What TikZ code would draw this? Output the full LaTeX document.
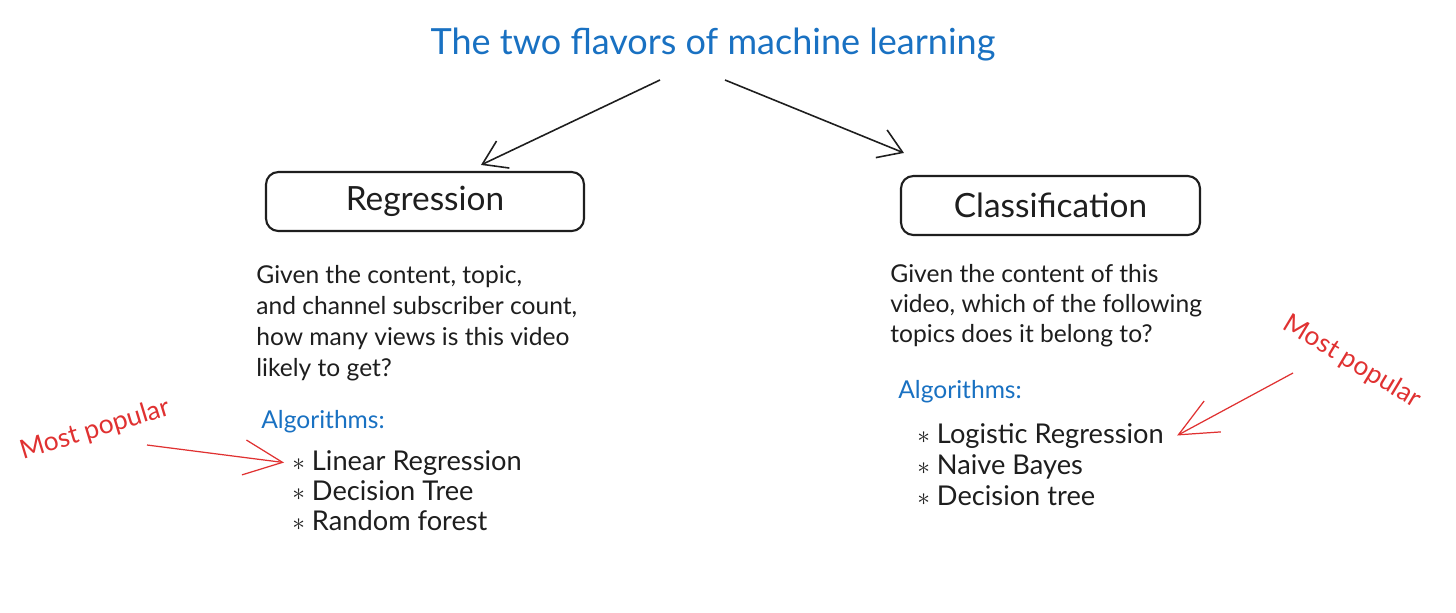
\documentclass[tikz,border=0pt]{standalone}
\usepackage{fontspec}
\setmainfont{Lato}
\usetikzlibrary{arrows.meta}
\definecolor{ink}{HTML}{1E1E1E}
\definecolor{inkblue}{HTML}{1971C2}
\definecolor{inkred}{HTML}{E03131}

\begin{document}
\begin{tikzpicture}[x=0.02cm,y=-0.02cm,
  txt/.style={anchor=base west,inner sep=0pt,text=ink,font=\fontsize{14}{17}\selectfont},
  itemtxt/.style={txt,font=\fontsize{15.5}{18}\selectfont},
  bluetxt/.style={txt,text=inkblue},
  redtxt/.style={inner sep=0pt,text=inkred,font=\fontsize{15}{18}\selectfont},
  box/.style={draw=ink,rounded corners=7pt,line width=1.2pt,text=ink,font=\fontsize{19}{22}\selectfont},
  arr/.style={-{Straight Barb[length=13pt,width=17pt]},draw=ink,line width=0.9pt},
  redarr/.style={-{Straight Barb[length=22pt,width=20pt]},draw=inkred,line width=0.7pt}]
\fill[white] (0,0) rectangle (1456,612);
\useasboundingbox (0,0) rectangle (1456,612);

% title and the two boxes
\node[inner sep=0pt,text=inkblue,font=\fontsize{20.5}{24}\selectfont] (0) at (713,45) {The two flavors of machine learning};
\node[box,minimum width=6.36cm,minimum height=1.18cm] (1) at (425,201.5) {Regression};
\node[box,minimum width=5.98cm,minimum height=1.18cm] (2) at (1050.5,205.5) {Classification};

% regression column
\node[txt] (3) at (256,283) {Given the content, topic,};
\node[txt] (4) at (256,314) {and channel subscriber count,};
\node[txt] (5) at (256,345) {how many views is this video};
\node[txt] (6) at (256,376) {likely to get?};
\node[bluetxt] (7) at (261,428) {Algorithms:};
\node[itemtxt] (8) at (292,470) {$\ast$\ Linear Regression};
\node[itemtxt] (9) at (292,500) {$\ast$\ Decision Tree};
\node[itemtxt] (10) at (292,530) {$\ast$\ Random forest};
\node[redtxt,rotate=17] (11) at (95,430) {Most popular};

% classification column
\node[txt] (12) at (890,282) {Given the content of this};
\node[txt] (13) at (890,312) {video, which of the following};
\node[txt] (14) at (890,342) {topics does it belong to?};
\node[bluetxt] (15) at (898,398) {Algorithms:};
\node[itemtxt] (16) at (917,443) {$\ast$\ Logistic Regression};
\node[itemtxt] (17) at (917,474) {$\ast$\ Naive Bayes};
\node[itemtxt] (18) at (917,505) {$\ast$\ Decision tree};
\node[redtxt,rotate=-31] (19) at (1352,362) {Most popular};

% arrow tails
\coordinate (t1) at (660,80);
\coordinate (t2) at (725,80);
\coordinate (t3) at (147,445);
\coordinate (t4) at (1293,373);

\path (t1) edge[arr] ([xshift=1.12cm,yshift=0.12cm]1.north);
\path (t2) edge[arr] ([xshift=0.08cm,yshift=0.44cm]2.north west);
\path (t3) edge[redarr] ([xshift=-0.16cm]8.west);
\path (t4) edge[redarr] ([xshift=0.26cm]16.east);
\end{tikzpicture}
\end{document}
